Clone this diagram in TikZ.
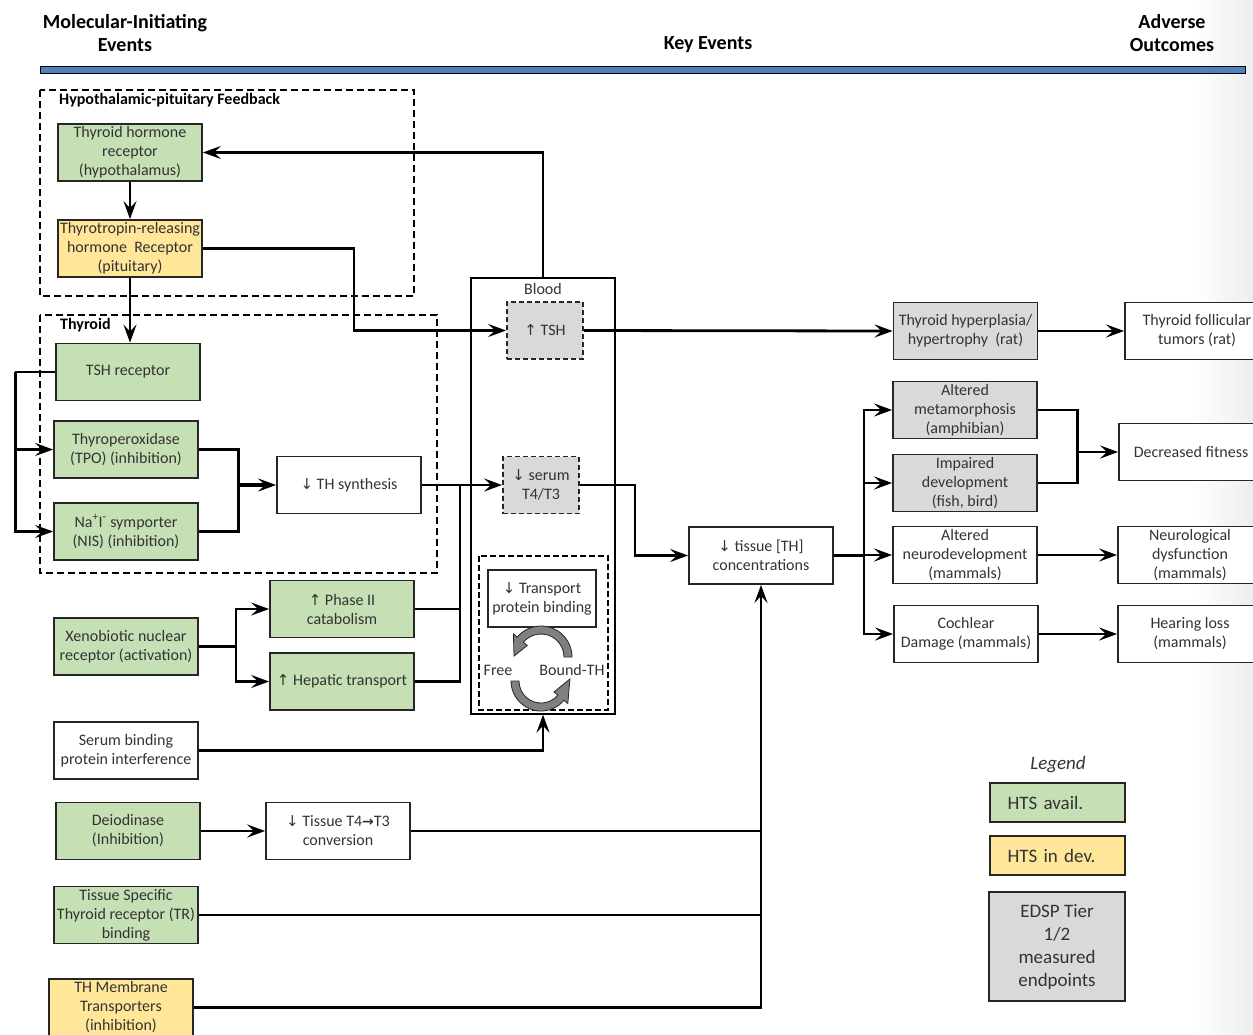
\documentclass[tikz,border=0pt]{standalone}
\usepackage{fontspec}
\setmainfont{Carlito}
\newfontfamily\arrowfont{DejaVu Sans}
\usetikzlibrary{arrows.meta, calc}

\definecolor{htsgreen}{RGB}{197,224,180}
\definecolor{htsyellow}{RGB}{255,230,153}
\definecolor{edspgray}{RGB}{217,217,217}
\definecolor{headblue}{RGB}{79,129,189}

\newcommand{\kefont}{\fontsize{16}{19}\selectfont}
\newcommand{\arrdown}{{\arrowfont\fontsize{15}{19}\selectfont ↓}}
\newcommand{\arrup}{{\arrowfont\fontsize{15}{19}\selectfont ↑}}
\newcommand{\arrright}{{\arrowfont\bfseries\fontsize{14}{19}\selectfont →}}

\begin{document}
\begin{tikzpicture}[x=1pt, y=-1pt,
    box/.style={draw=black!85, line width=1.8pt, minimum width=144pt, minimum height=57pt,
        inner sep=0pt, align=center, font=\kefont, text=black!80},
    htsok/.style={box, fill=htsgreen},
    htsdev/.style={box, fill=htsyellow},
    edsp/.style={box, fill=edspgray},
    edspdash/.style={edsp, dashed, dash pattern=on 5pt off 3pt, minimum width=76pt},
    link/.style={line width=2.8pt, -{Stealth[length=18pt, width=13pt, inset=7pt]}},
    wire/.style={line width=2.8pt},
    group/.style={draw, line width=1.4pt, dash pattern=on 7pt off 4pt},
    grouplabel/.style={anchor=west, inner sep=0pt, font=\fontsize{16}{19}\selectfont\bfseries},
    header/.style={align=center, inner sep=0pt, font=\fontsize{20}{23}\selectfont\bfseries},
    legbox/.style={draw=black!85, line width=1.8pt, minimum width=135pt, minimum height=39pt,
        inner sep=0pt, font=\fontsize{19}{23}\selectfont, text=black!80}
]
    \useasboundingbox (0,0) rectangle (1253,1034);

    % --- 背景の淡い影 ---
    \shade[left color=white, right color=black!7] (1195,0) rectangle (1253,1034);

    % --- 見出しと青い帯 ---
    \node[header] (hmie) at (125,33) {Molecular-Initiating\\Events};
    \node[header] (hke) at (708,45) {Key Events};
    \node[header] (hao) at (1172,33) {Adverse\\Outcomes};
    \draw[fill=headblue, line width=1pt] (40,66) rectangle (1245,73);

    % --- 破線のグループ枠 ---
    \draw[group] (40,90) rectangle (414,296);
    \node[grouplabel] (lhpf) at (59,100) {Hypothalamic-pituitary Feedback};
    \draw[group] (40,315) rectangle (437,573);
    \node[grouplabel] (lthy) at (60,325) {Thyroid};

    % --- 血液の枠 ---
    \node[draw, fill=white, line width=1.3pt, minimum width=144pt, minimum height=436pt] (blood) at (543,496) {};
    \node[font=\kefont, text=black!80, inner sep=0pt] (lblood) at (543,289) {Blood};
    \draw[line width=1.4pt, dash pattern=on 6pt off 3pt] (479,556) rectangle (608,710);

    % --- 分子初期事象 ---
    \node[htsok] (thr) at (130,152.5) {Thyroid hormone\\receptor\\(hypothalamus)};
    \node[htsdev] (trh) at (130,248.5) {Thyrotropin-releasing\\hormone\ \ Receptor\\(pituitary)};
    \node[htsok] (tshr) at (128,372) {TSH receptor};
    \node[htsok] (tpo) at (126,449.5) {Thyroperoxidase\\(TPO) (inhibition)};
    \node[htsok] (nis) at (126,531.5) {Na\textsuperscript{+}I\textsuperscript{-} symporter\\(NIS) (inhibition)};
    \node[htsok] (xeno) at (126,646.5) {Xenobiotic nuclear\\receptor\ (activation)};
    \node[box, fill=white] (sbp) at (126,750.5) {Serum\ binding\\protein\ interference};
    \node[htsok] (deio) at (128,831) {Deiodinase\\(Inhibition)};
    \node[htsok] (tr) at (126,915) {Tissue Specific\\Thyroid receptor\ (TR)\\binding};
    \node[htsdev] (memb) at (121,1007.5) {TH Membrane\\Transporters\\(inhibition)};

    % --- 主要事象 ---
    \node[box] (thsyn) at (349,485) {\arrdown\ TH synthesis};
    \node[htsok] (phase) at (342,609) {\arrup\ Phase II\\catabolism};
    \node[htsok] (hepatic) at (342,681.5) {\arrup\ Hepatic transport};
    \node[box] (conv) at (338,831) {\arrdown\ Tissue T4\arrright T3\\conversion};
    \node[edspdash] (tsh) at (545,330.5) {\arrup\ TSH};
    \node[edspdash] (serum) at (541,485) {\arrdown\ serum\\T4/T3};
    \node[box, minimum width=108pt] (transport) at (542,598.5) {\arrdown\ Transport\\protein\ binding};
    \node[font=\kefont, text=black!80, inner sep=0pt] (free) at (498,670) {Free};
    \node[font=\kefont, text=black!80, inner sep=0pt] (bound) at (572,670) {Bound-TH};
    \node[box] (tissue) at (761,555.5) {\arrdown\ tissue [TH]\\concentrations};

    % 遊離型と結合型の循環矢印
    \coordinate (cycup) at (541,657);
    \coordinate (cyclow) at (541,681);
    \filldraw[fill=black!50, draw=black!85, line width=0.8pt]
        ($(cycup)+(0:31)$) arc[start angle=0, end angle=-140, radius=31]
        -- ($(cycup)+(-140:36)$) -- ($(cycup)+(-178:27)$) -- ($(cycup)+(-140:18)$)
        -- ($(cycup)+(-140:23)$) arc[start angle=-140, end angle=0, radius=23] -- cycle;
    \filldraw[fill=black!50, draw=black!85, line width=0.8pt]
        ($(cyclow)+(180:30)$) arc[start angle=180, end angle=40, radius=30]
        -- ($(cyclow)+(40:35)$) -- ($(cyclow)+(-4:29)$) -- ($(cyclow)+(40:17)$)
        -- ($(cyclow)+(40:22)$) arc[start angle=40, end angle=180, radius=22] -- cycle;

    % --- 有害転帰 ---
    \node[edsp] (hyper) at (965.5,331) {Thyroid hyperplasia/\\hypertrophy\ \ (rat)};
    \node[box, fill=white] (tumor) at (1197,331) {Thyroid follicular\\tumors (rat)};
    \node[edsp] (meta) at (965,410) {Altered\\metamorphosis\\(amphibian)};
    \node[edsp] (impair) at (965,483) {Impaired\\development\\(fish, bird)};
    \node[box] (neuro) at (965,555) {Altered\\neurodevelopment\\(mammals)};
    \node[box] (cochlea) at (966,634) {Cochlear\\Damage (mammals)};
    \node[box, fill=white] (fitness) at (1191,452) {Decreased fitness};
    \node[box, fill=white] (neurodys) at (1190,555) {Neurological\\dysfunction\\(mammals)};
    \node[box, fill=white] (hearing) at (1190,634) {Hearing loss\\(mammals)};

    % --- フィードバックの矢印 ---
    \draw[link] (thr.south) -- (trh.north);
    \draw[link] (trh.south) -- (trh.south |- tshr.north);
    \coordinate (trhbend) at (354,0);
    \draw[link] (trh.east) -| (trhbend |- tsh.west) -- (tsh.west);
    \draw[link] (blood.north) |- (thr.east);
    \draw[link] (tsh.east) -- (hyper.west);
    \draw[link] (hyper.east) -- (tumor.west);

    % --- 甲状腺ホルモン合成 ---
    \draw[wire] (tshr.west) -- ++(-40,0) coordinate (tshrbend);
    \draw[link] (tshrbend) |- (tpo.west);
    \draw[link] (tshrbend) |- (nis.west);
    \coordinate (synjoin) at ($(thsyn.west)+(-38,0)$);
    \draw[wire] (tpo.east) -| (synjoin) |- (nis.east);
    \draw[link, line width=3.6pt] (synjoin) -- (thsyn.west);
    \draw[link] (thsyn.east) -- (serum.west);

    % --- 肝臓での代謝 ---
    \coordinate (xenojoin) at ($(xeno.east)+(37,0)$);
    \draw[wire, line width=3.8pt] (xeno.east) -- (xenojoin);
    \draw[link] (xenojoin) |- (phase.west);
    \draw[link] (xenojoin) |- (hepatic.west);
    \coordinate (liverjoin) at ($(thsyn.east)+(38,0)$);
    \draw[wire] (phase.east) -| (liverjoin);
    \draw[wire] (hepatic.east) -| (liverjoin);
    \draw[link] (sbp.east) -| (blood.south);

    % --- 組織中濃度へ ---
    \draw[link] (serum.east) -- ++(55,0) |- (tissue.west);
    \draw[link] (deio.east) -- (conv.west);
    \draw[wire] (conv.east) -- (conv.east -| tissue.south);
    \draw[wire] (tr.east) -- (tr.east -| tissue.south);
    \draw[link] (memb.east) -| (tissue.south);

    % --- 有害転帰への分岐 ---
    \coordinate (aojoin) at ($(tissue.east)+(30,0)$);
    \draw[wire, line width=3.8pt] (tissue.east) -- (aojoin);
    \foreach \target in {meta, impair, neuro, cochlea} {
        \draw[link] (aojoin) |- (\target.west);
    }
    \coordinate (fitjoin) at ($(fitness.west)+(-41,0)$);
    \draw[wire] (meta.east) -| (fitjoin) |- (impair.east);
    \draw[link] (fitjoin) -- (fitness.west);
    \draw[link] (neuro.east) -- (neurodys.west);
    \draw[link] (cochlea.east) -- (hearing.west);

    % --- 凡例 ---
    \node[font=\fontsize{19}{23}\selectfont\itshape, text=black!80, inner sep=0pt] (legtitle) at (1058,765) {Legend};
    \node[legbox, fill=htsgreen, text width=100pt, align=left] (legavail) at (1057.5,802.5) {HTS avail.};
    \node[legbox, fill=htsyellow, text width=100pt, align=left] (legdev) at (1057.5,855.5) {HTS in dev.};
    \node[legbox, fill=edspgray, minimum width=136pt, minimum height=109pt, align=center] (legedsp) at (1057,946.5)
        {EDSP Tier\\1/2\\measured\\endpoints};

\end{tikzpicture}
\end{document}
